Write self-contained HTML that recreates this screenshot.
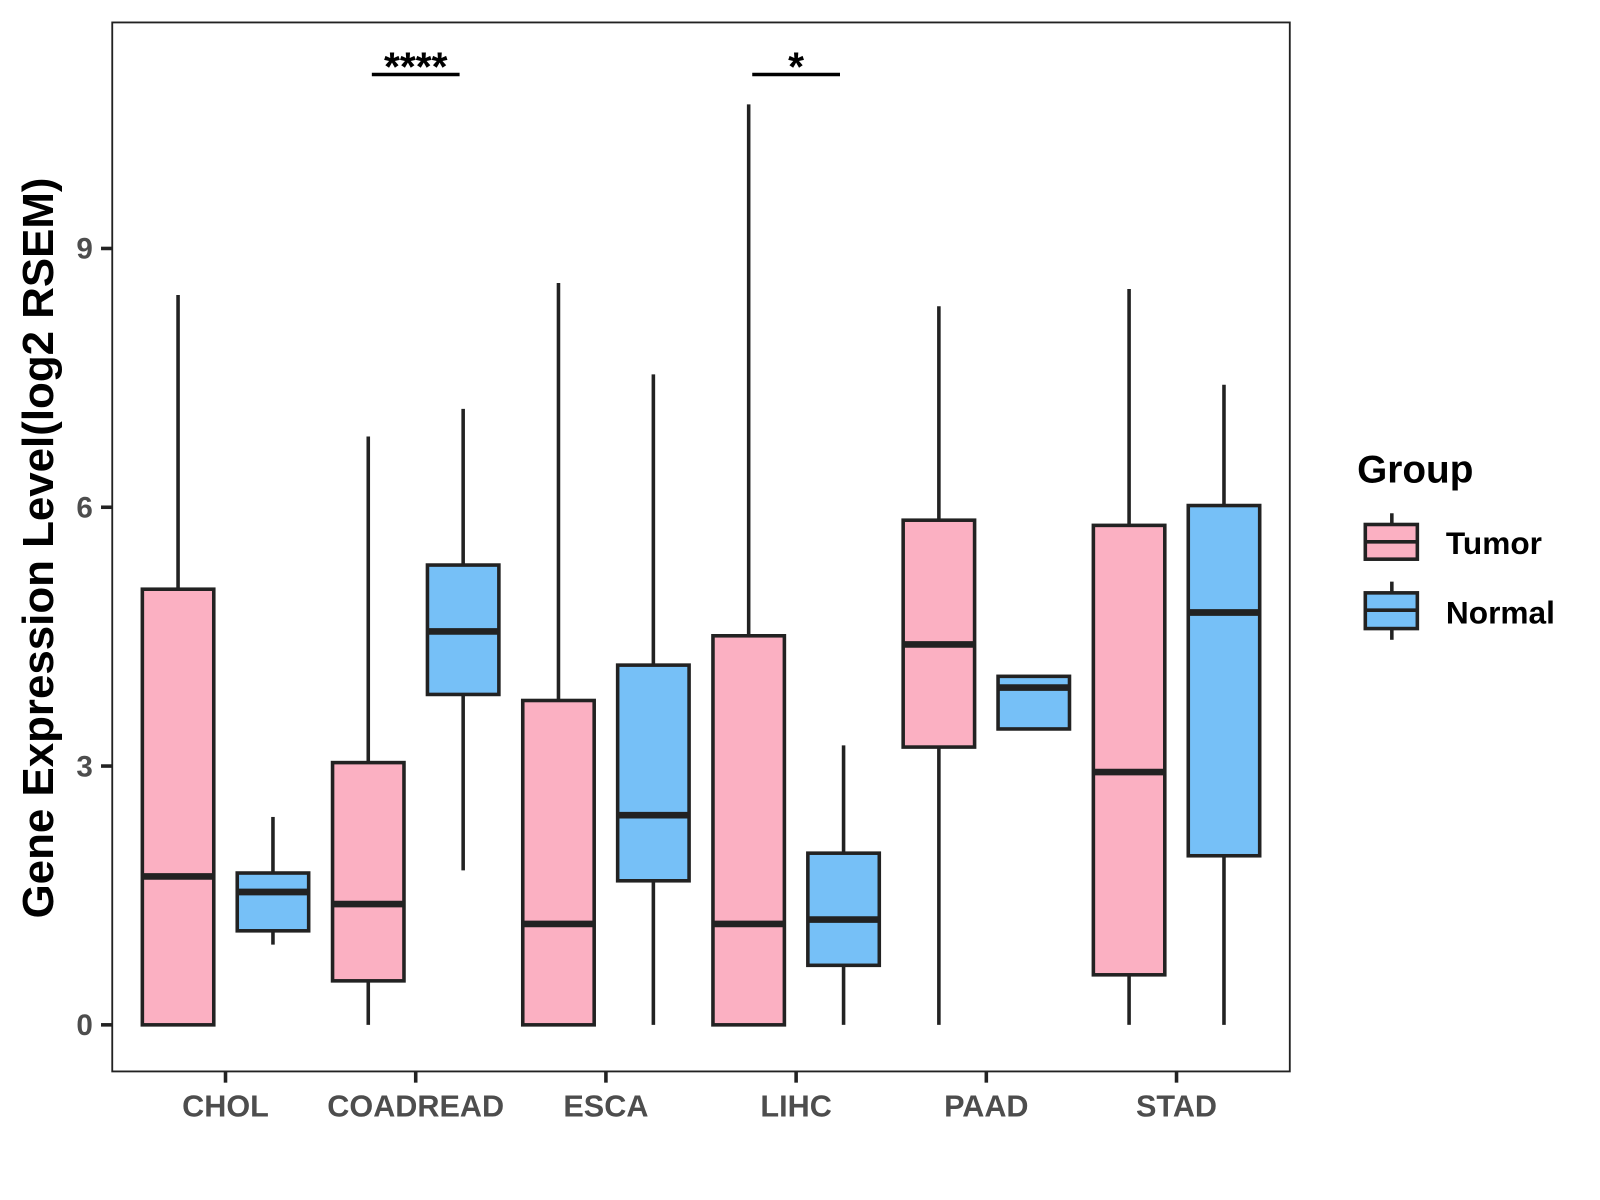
<!DOCTYPE html>
<html><head><meta charset="utf-8"><style>
html,body{margin:0;padding:0;background:#fff;}
svg{display:block;font-family:"Liberation Sans",Arial,sans-serif;}
</style></head><body>
<svg id="chart" width="1600" height="1200" viewBox="0 0 1568 1176" xmlns="http://www.w3.org/2000/svg">
<rect x="0" y="0" width="1568" height="1176" fill="#fff"/>
<g id="marks"></g>
<rect x="110" y="22" width="1154" height="1028" fill="none" stroke="#222" stroke-width="1.8"/>
<g id="axes"></g>
<text transform="translate(52,537) rotate(-90)" text-anchor="middle" font-size="43" font-weight="bold" fill="#000">Gene Expression Level(log2 RSEM)</text>
<g>
<text x="1330" y="473" font-size="38" font-weight="bold">Group</text>
<line x1="1364" y1="503" x2="1364" y2="548" stroke="#222" stroke-width="3.5"/>
<rect x="1338" y="514" width="51" height="34" fill="#fbb0c2" stroke="#222" stroke-width="3.5"/>
<line x1="1338" y1="531" x2="1389" y2="531" stroke="#222" stroke-width="3.5"/>
<text x="1417" y="543" font-size="31" font-weight="bold">Tumor</text>
<line x1="1364" y1="570" x2="1364" y2="627" stroke="#222" stroke-width="3.5"/>
<rect x="1338" y="581" width="51" height="35" fill="#76c0f7" stroke="#222" stroke-width="3.5"/>
<line x1="1338" y1="598" x2="1389" y2="598" stroke="#222" stroke-width="3.5"/>
<text x="1417" y="611" font-size="31" font-weight="bold">Normal</text>
</g>
</svg>
<script>
const categories = ["CHOL","COADREAD","ESCA","LIHC","PAAD","STAD"];
// [lowerWhisker, Q1, median, Q3, upperWhisker]
const tumorStats = [
 [0,0,1.72,5.05,8.46],
 [0,0.51,1.40,3.04,6.82],
 [0,0,1.17,3.76,8.60],
 [0,0,1.17,4.51,10.67],
 [0,3.22,4.41,5.85,8.33],
 [0,0.58,2.93,5.79,8.53]
];
const normalStats = [
 [0.93,1.09,1.54,1.76,2.41],
 [1.79,3.83,4.56,5.33,7.14],
 [0,1.67,2.43,4.17,7.54],
 [0,0.69,1.22,1.99,3.24],
 [3.43,3.43,3.91,4.04,4.04],
 [0,1.96,4.78,6.02,7.42]
];
const yTicks = [0,3,6,9];
const sigLabels = [{cat:1,label:"****"},{cat:3,label:"*"}];

const NS="http://www.w3.org/2000/svg";
const yMin=-0.54, yMax=11.62, pTop=22, pBot=1050;
function yScale(v){return pBot-(v-yMin)/(yMax-yMin)*(pBot-pTop);}
function xScale(i){return 221+i*186.4;}
function mk(tag,attrs,parent){const e=document.createElementNS(NS,tag);for(const k in attrs)e.setAttribute(k,attrs[k]);parent.appendChild(e);return e;}
const marks=document.getElementById('marks'), axes=document.getElementById('axes');
function drawBox(s,cx,fill,name){
  const g=mk('g',{},marks);
  
  
  const hw=35;
  mk('line',{x1:cx,x2:cx,y1:yScale(s[4]),y2:yScale(s[3]),stroke:'#222','stroke-width':3.5},g);
  mk('line',{x1:cx,x2:cx,y1:yScale(s[1]),y2:yScale(s[0]),stroke:'#222','stroke-width':3.5},g);
  mk('rect',{x:cx-hw,y:yScale(s[3]),width:hw*2,height:Math.max(1,yScale(s[1])-yScale(s[3])),fill:fill,stroke:'#222','stroke-width':3.5},g);
  mk('line',{x1:cx-hw,x2:cx+hw,y1:yScale(s[2]),y2:yScale(s[2]),stroke:'#222','stroke-width':6.5},g);
}
categories.forEach((c,i)=>{
  drawBox(tumorStats[i],xScale(i)-46.5,'#fbb0c2','box-tumor-'+c.toLowerCase());
  drawBox(normalStats[i],xScale(i)+46.5,'#76c0f7','box-normal-'+c.toLowerCase());
  const t=mk('line',{x1:xScale(i),x2:xScale(i),y1:1050,y2:1061,stroke:'#222','stroke-width':3.5},axes);
  
  
  const l=mk('text',{x:xScale(i),y:1094,'text-anchor':'middle','font-size':30,'font-weight':'bold',fill:'#4d4d4d'},axes);
  l.textContent=c;
  
  
});
yTicks.forEach(v=>{
  const t=mk('line',{x1:99,x2:110,y1:yScale(v),y2:yScale(v),stroke:'#222','stroke-width':3.5},axes);
  
  
  const l=mk('text',{x:91,y:yScale(v)+10,'text-anchor':'end','font-size':29,'font-weight':'bold',fill:'#4d4d4d'},axes);
  l.textContent=v;
  
  
});
sigLabels.forEach(s=>{
  const cx=xScale(s.cat);
  const ln=mk('line',{x1:cx-43,x2:cx+43,y1:73,y2:73,stroke:'#000','stroke-width':3.5},marks);
  
  
  const tx=mk('text',{x:cx,y:79,'text-anchor':'middle','font-size':40,'font-weight':'bold',fill:'#000'},marks);
  tx.textContent=s.label;
  
  
});
</script>
</body></html>
